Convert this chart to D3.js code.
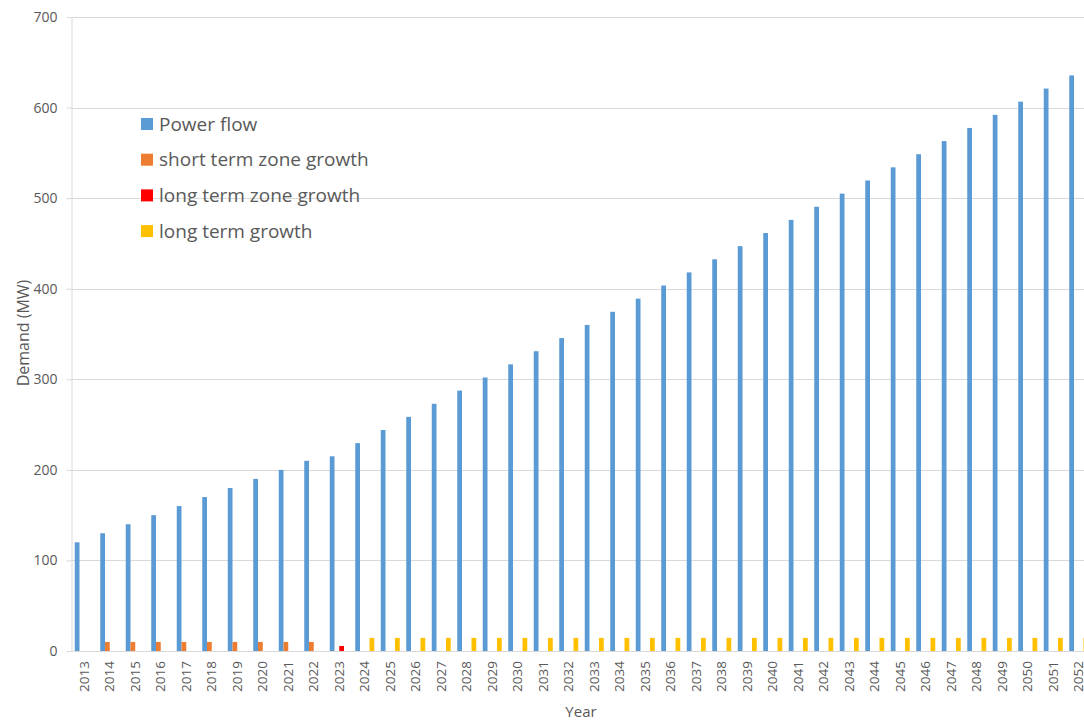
<!DOCTYPE html>
<html><head><meta charset="utf-8">
<script src="https://cdn.jsdelivr.net/npm/d3@7"></script>
<style>body{margin:0;background:#fff;} svg{display:block;}</style>
</head><body>
<svg id="c" width="1084" height="720"></svg>
<script>
const years = ["2013","2014","2015","2016","2017","2018","2019","2020","2021","2022","2023","2024","2025","2026","2027","2028","2029","2030","2031","2032","2033","2034","2035","2036","2037","2038","2039","2040","2041","2042","2043","2044","2045","2046","2047","2048","2049","2050","2051","2052"];
const seriesNames = ["Power flow","short term zone growth","long term zone growth","long term growth"];
const powerFlow = [120,130,140,150,160,170,180,190,200,210,215,229.5,244,258.5,273,287.5,302,316.5,331,345.5,360,374.5,389,403.5,418,432.5,447,461.5,476,490.5,505,519.5,534,548.5,563,577.5,592,606.5,621,635.5];
const shortTerm = [0,10,10,10,10,10,10,10,10,10,0,0,0,0,0,0,0,0,0,0,0,0,0,0,0,0,0,0,0,0,0,0,0,0,0,0,0,0,0,0];
const longTermZone = [0,0,0,0,0,0,0,0,0,0,5.5,0,0,0,0,0,0,0,0,0,0,0,0,0,0,0,0,0,0,0,0,0,0,0,0,0,0,0,0,0];
const longTerm = [0,0,0,0,0,0,0,0,0,0,0,14.5,14.5,14.5,14.5,14.5,14.5,14.5,14.5,14.5,14.5,14.5,14.5,14.5,14.5,14.5,14.5,14.5,14.5,14.5,14.5,14.5,14.5,14.5,14.5,14.5,14.5,14.5,14.5,14.5];
const yTicks = [0,100,200,300,400,500,600,700];
const colors = ["#5B9BD5","#ED7D31","#FF0000","#FFC000"];
const allSeries = [powerFlow, shortTerm, longTermZone, longTerm];

(function(){
const svg = d3.select("#c");
const font = "'Open Sans', 'Liberation Sans', sans-serif";
const pl = 71.5, pr = 71.5 + 40*25.5, pt = 17, pb = 651;

const x = d3.scaleBand().domain(years).range([pl, pr]).paddingInner(0.255).paddingOuter(0.1275);
const xs = d3.scaleBand().domain(d3.range(4)).range([0, x.bandwidth()]);
const y = d3.scaleLinear().domain([0,700]).range([pb, pt]);

svg.append("g").selectAll("line").data(yTicks.filter(d=>d>0)).join("line")
  .attr("x1", pl).attr("x2", 1084)
  .attr("y1", d=>Math.round(y(d))+0.5).attr("y2", d=>Math.round(y(d))+0.5)
  .attr("stroke","#D9D9D9").attr("stroke-width",1);

const groups = svg.append("g").selectAll("g").data(years).join("g")
  .attr("transform", d=>`translate(${x(d)},0)`);
groups.selectAll("rect").data((d,i)=>allSeries.map((s,k)=>({k, v:s[i]}))).join("rect")
  .attr("x", d=>xs(d.k)).attr("width", xs.bandwidth())
  .attr("y", d=>y(d.v)).attr("height", d=>pb - y(d.v))
  .attr("fill", d=>colors[d.k]);

const yAxis = svg.append("g").attr("transform",`translate(${pl},0)`)
  .call(d3.axisLeft(y).tickValues(yTicks).tickSize(5).tickPadding(9));
yAxis.select(".domain").attr("stroke","#D9D9D9").attr("d",`M0.5,${pt}V${pb}`);
yAxis.selectAll(".tick line").attr("stroke","#D9D9D9");
yAxis.selectAll(".tick text").attr("fill","#595959").style("font-family",font).style("font-size","14px");

const xAxis = svg.append("g").attr("transform",`translate(0,${pb})`)
  .call(d3.axisBottom(x).tickSize(0));
xAxis.select(".domain").attr("stroke","#D9D9D9").attr("d",`M${pl},0.5H1084`);
xAxis.selectAll(".tick text")
  .attr("fill","#595959").style("font-family",font).style("font-size","13.5px")
  .attr("transform","rotate(-90)").attr("text-anchor","end")
  .attr("x",-10).attr("y",0).attr("dy","0.35em");

svg.append("text").attr("transform","translate(23,333) rotate(-90)")
  .attr("text-anchor","middle").attr("dy","0.35em").attr("fill","#595959")
  .style("font-family",font).style("font-size","16px").text("Demand (MW)");
svg.append("text").attr("x",581).attr("y",717)
  .attr("text-anchor","middle").attr("fill","#595959")
  .style("font-family",font).style("font-size","15px").text("Year");

const lg = svg.append("g").selectAll("g").data(seriesNames).join("g")
  .attr("transform",(d,i)=>`translate(141,${124 + i*35.7})`);
lg.append("rect").attr("x",0).attr("y",-6).attr("width",12).attr("height",12)
  .attr("fill",(d,i)=>colors[i]);
lg.append("text").attr("x",18).attr("y",0).attr("dy","0.35em")
  .attr("fill","#595959").style("font-family",font).style("font-size","19px").text(d=>d);
})();
</script>
</body></html>
